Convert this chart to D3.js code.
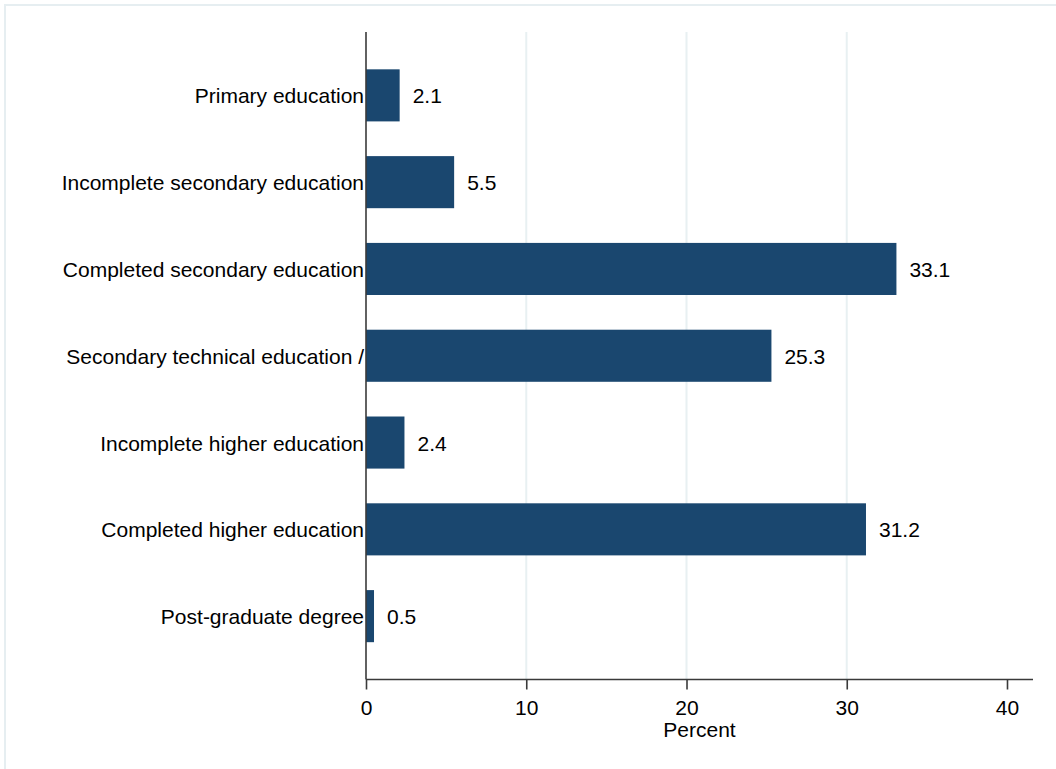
<!DOCTYPE html>
<html>
<head>
<meta charset="utf-8">
<script src="https://cdn.jsdelivr.net/npm/d3@7"></script>
<style>
  html, body { margin: 0; padding: 0; background: #ffffff; }
  svg { display: block; }
  text { font-family: "Liberation Sans", Arial, sans-serif; fill: #000; }
</style>
</head>
<body>
<svg id="chart" width="1056" height="769"></svg>
<script>
const categories = [
  "Primary education",
  "Incomplete secondary education",
  "Completed secondary education",
  "Secondary technical education /",
  "Incomplete higher education",
  "Completed higher education",
  "Post-graduate degree"
];
const values = [2.1, 5.5, 33.1, 25.3, 2.4, 31.2, 0.5];
const xTicks = [0, 10, 20, 30, 40];
const gridTicks = [10, 20, 30];
const xTitle = "Percent";

const svg = d3.select("#chart");
const fontSize = 21;

// outer graph region border (cropped on right/bottom)
svg.append("rect")
  .attr("x", 5).attr("y", 5)
  .attr("width", 1100).attr("height", 800)
  .attr("fill", "#ffffff")
  .attr("stroke", "#e6eef1")
  .attr("stroke-width", 2);

const plotTop = 32, plotBottom = 679.5;
const x0 = 366;
const x = d3.scaleLinear().domain([0, 40]).range([x0, 1007]);
const axisEnd = 1033;

const y = d3.scaleBand()
  .domain(categories)
  .range([plotTop, plotBottom])
  .paddingInner(0.4)
  .paddingOuter(0.43);

// gridlines
svg.append("g").selectAll("line")
  .data(gridTicks).join("line")
  .attr("x1", d => x(d)).attr("x2", d => x(d))
  .attr("y1", plotTop).attr("y2", plotBottom)
  .attr("stroke", "#e8f0f2")
  .attr("stroke-width", 2);

// bars
svg.append("g").selectAll("rect")
  .data(values).join("rect")
  .attr("x", x(0))
  .attr("y", (d, i) => y(categories[i]))
  .attr("width", d => x(d) - x(0))
  .attr("height", y.bandwidth())
  .attr("fill", "#1a476f");

// value labels
svg.append("g").selectAll("text")
  .data(values).join("text")
  .attr("x", d => x(d) + 13)
  .attr("y", (d, i) => y(categories[i]) + y.bandwidth() / 2)
  .attr("dy", "0.38em")
  .attr("font-size", fontSize)
  .text(d => d.toFixed(1));

// category labels
svg.append("g").selectAll("text")
  .data(categories).join("text")
  .attr("x", x0 - 2)
  .attr("y", d => y(d) + y.bandwidth() / 2)
  .attr("dy", "0.38em")
  .attr("text-anchor", "end")
  .attr("font-size", fontSize)
  .text(d => d);

// y axis line
svg.append("line")
  .attr("x1", x0).attr("x2", x0)
  .attr("y1", plotTop).attr("y2", plotBottom)
  .attr("stroke", "#3a3a3a").attr("stroke-width", 1.6);

// x axis
const xAxis = d3.axisBottom(x).tickValues(xTicks).tickSize(10).tickPadding(11).tickSizeOuter(0);
const gx = svg.append("g").attr("transform", `translate(0,${plotBottom})`).call(xAxis);
gx.select(".domain").remove();
gx.append("line")
  .attr("x1", x0).attr("x2", axisEnd)
  .attr("y1", 0).attr("y2", 0)
  .attr("stroke", "#3a3a3a").attr("stroke-width", 1.6);
gx.selectAll(".tick line").attr("stroke", "#3a3a3a").attr("stroke-width", 1.6);
gx.selectAll(".tick text")
  .attr("font-size", fontSize)
  .attr("font-family", "Liberation Sans, Arial, sans-serif")
  .attr("fill", "#000");

// x title
svg.append("text")
  .attr("x", (x0 + axisEnd) / 2)
  .attr("y", 737)
  .attr("text-anchor", "middle")
  .attr("font-size", fontSize)
  .text(xTitle);
</script>
</body>
</html>
